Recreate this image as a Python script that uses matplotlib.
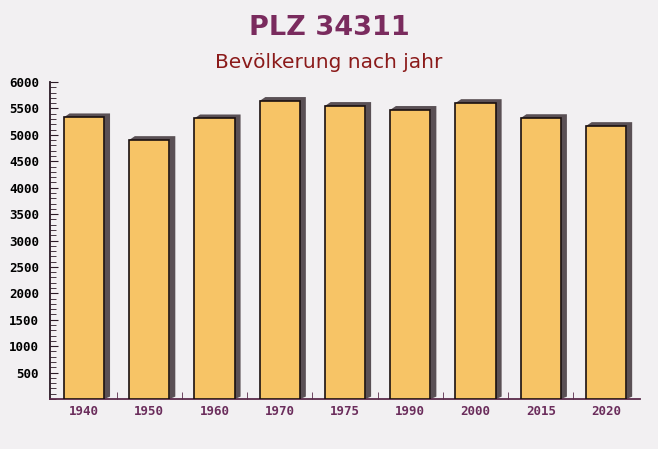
import matplotlib
matplotlib.use("Agg")
import matplotlib.pyplot as plt
from matplotlib.patches import Polygon
from matplotlib.ticker import MultipleLocator

years = ["1940", "1950", "1960", "1970", "1975", "1990", "2000", "2015", "2020"]
population = [5330, 4900, 5310, 5640, 5545, 5470, 5600, 5315, 5165]

fig = plt.figure(figsize=(6.58, 4.49), dpi=100)
fig.patch.set_facecolor("#f2f0f2")
ax = fig.add_axes([50 / 658, 50 / 449, 590 / 658, 317 / 449])
ax.set_facecolor("none")

bar_w = 0.62
dx, dy = 0.09, 75  # shadow offset in data units
for i, v in enumerate(population):
    x0 = i - bar_w / 2
    shadow = Polygon([(x0 + bar_w, 0), (x0 + bar_w + dx, dy * 0.6), (x0 + bar_w + dx, v + dy),
                      (x0 + dx, v + dy), (x0, v), (x0 + bar_w, v)],
                     closed=True, facecolor="#5a5055", edgecolor="none", zorder=2)
    ax.add_patch(shadow)
ax.bar(range(len(years)), population, width=bar_w, color="#f7c466",
       edgecolor="#1a1010", linewidth=1.2, zorder=3)

ax.set_xlim(-0.52, len(years) - 0.48)
ax.set_ylim(0, 6000)
ax.yaxis.set_minor_locator(MultipleLocator(100))
ax.set_yticks(range(500, 6001, 500))
ax.set_xticks(range(len(years)))
ax.set_xticklabels(years)
ax.set_xticks([i + 0.5 for i in range(len(years) - 1)], minor=True)

for s in ["top", "right"]:
    ax.spines[s].set_visible(False)
ax.spines["left"].set_color("#2a1a25")
ax.spines["bottom"].set_color("#5a2a4a")
ax.spines["left"].set_linewidth(1.3)
ax.spines["bottom"].set_linewidth(1.3)

ax.tick_params(axis="y", which="major", direction="in", length=6, color="#2a1a25",
               labelsize=9, pad=8)
ax.tick_params(axis="y", which="minor", direction="in", length=4, color="#2a1a25")
ax.tick_params(axis="x", which="major", length=0, pad=4, labelsize=9, labelcolor="#6b2d5c")
ax.tick_params(axis="x", which="minor", direction="in", length=5, color="#5a2a4a")
for lab in ax.get_yticklabels() + ax.get_xticklabels():
    lab.set_fontfamily("DejaVu Sans Mono")
    lab.set_fontweight("bold")

fig.text(0.5, 1 - 28 / 449, "PLZ 34311", ha="center", va="center",
         fontsize=19.5, fontweight="bold", color="#7a2b5e")
fig.text(0.5, 1 - 62 / 449, "Bevölkerung nach jahr", ha="center", va="center",
         fontsize=14.5, color="#8b1a1a")

fig.savefig("out.png", dpi=100, facecolor=fig.get_facecolor())
